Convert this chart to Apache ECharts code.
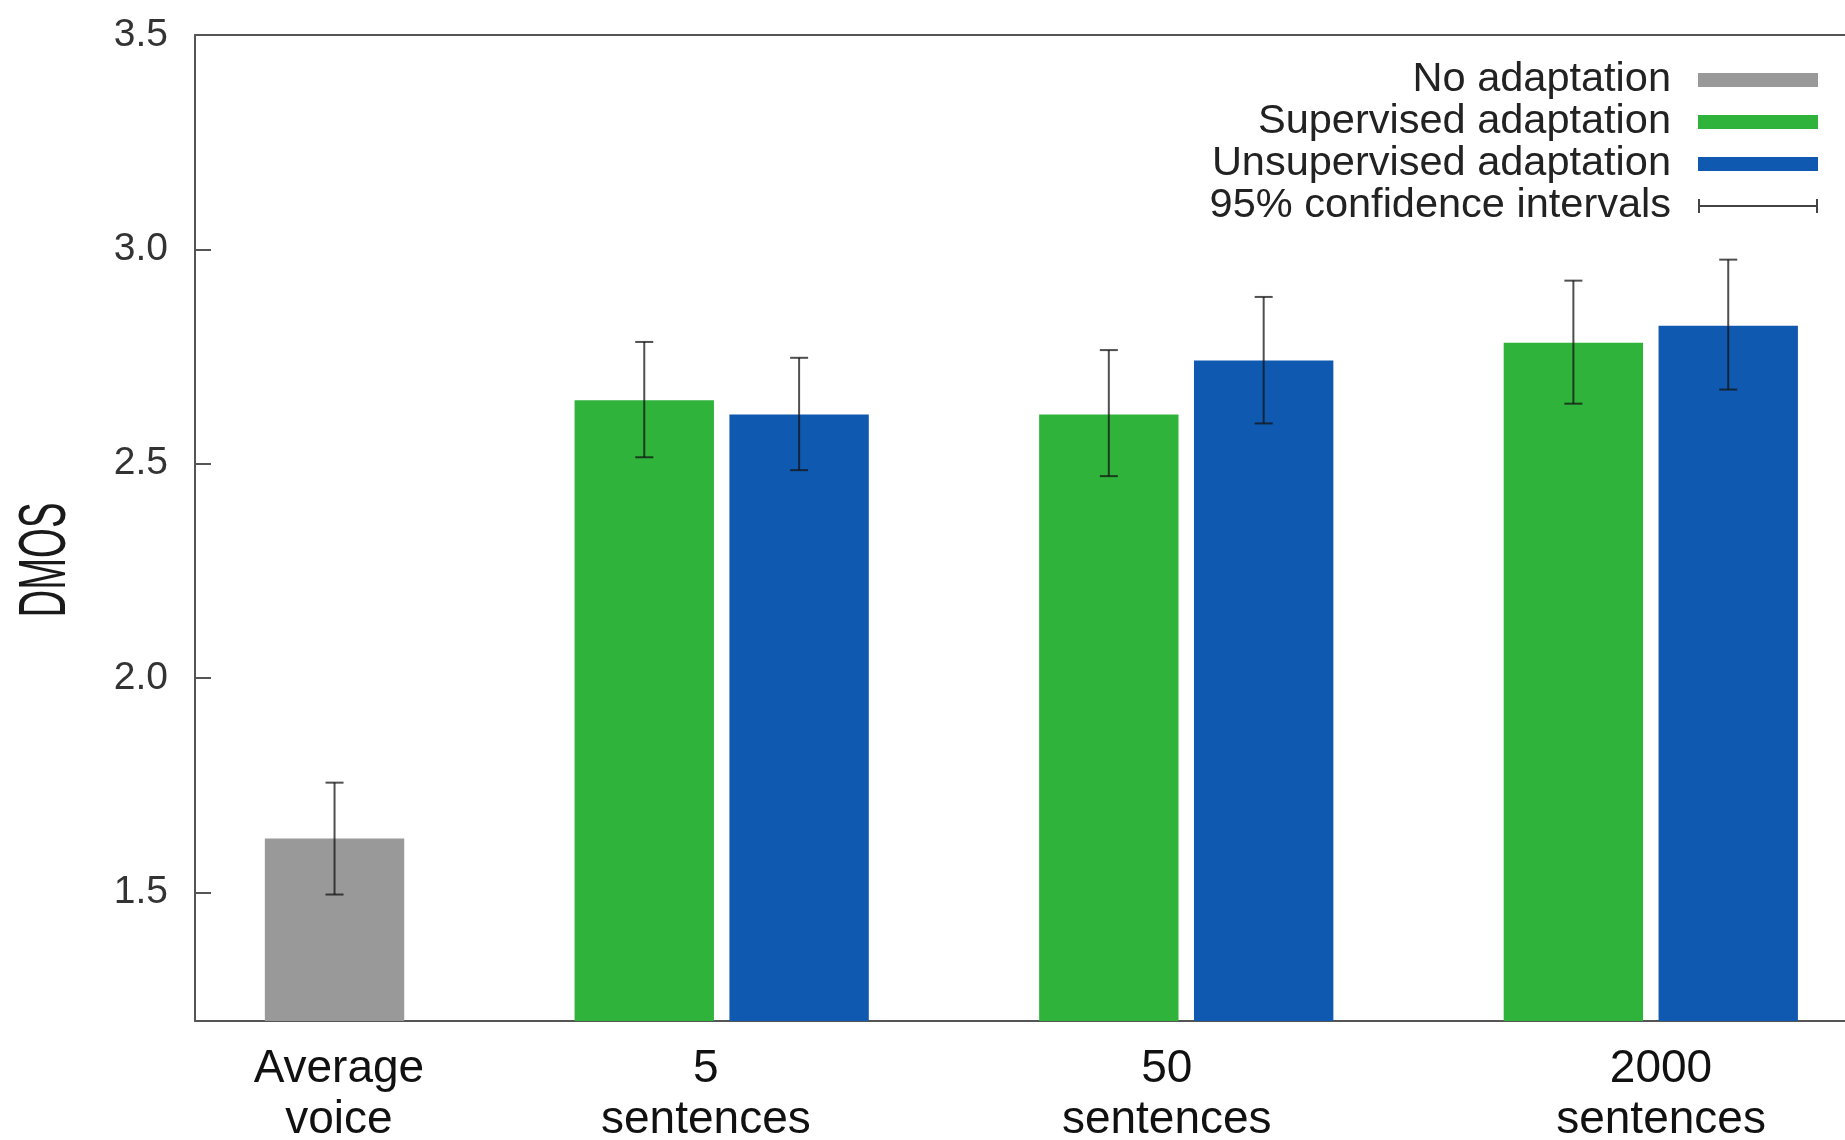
<!DOCTYPE html>
<html>
<head>
<meta charset="utf-8">
<title>DMOS by adaptation data size</title>
<script src="https://cdn.jsdelivr.net/npm/echarts@6/dist/echarts.min.js"></script>
<style>
  html, body { margin: 0; padding: 0; background: #ffffff; }
  #chart { width: 1845px; height: 1140px; }
</style>
</head>
<body>
<div id="chart"></div>
<script>
// ---- data ----
const categories = ['Average\nvoice', '5\nsentences', '50\nsentences', '2000\nsentences'];
const seriesNames = ['No adaptation', 'Supervised adaptation', 'Unsupervised adaptation'];
const ciName = '95% confidence intervals';

// mean DMOS per category (null = condition not tested)
const noAdaptation   = [1.626, null,  null,  null];
const supervised     = [null,  2.648, 2.615, 2.782];
const unsupervised   = [null,  2.615, 2.741, 2.822];

// 95% confidence interval bounds
const noAdaptationLow  = [1.495, null,  null,  null];
const noAdaptationHigh = [1.756, null,  null,  null];
const supervisedLow    = [null,  2.515, 2.471, 2.640];
const supervisedHigh   = [null,  2.784, 2.765, 2.927];
const unsupervisedLow  = [null,  2.485, 2.594, 2.673];
const unsupervisedHigh = [null,  2.747, 2.889, 2.976];

const yTicks = [1.5, 2.0, 2.5, 3.0, 3.5];

// ---- layout (cluster units on the x axis) ----
const SLOT = 1 / 3;            // two boxes per cluster plus one gap
const BOX_W = 0.9 * SLOT;      // box width
const slotOffset = [SLOT / 2, -SLOT / 2, SLOT / 2];  // grey box sits in the right slot
const labelPos = [0.176, 0.966, 1.958, 3.022];      // where category names are written
const X_MIN = -0.1337, X_MAX = 3.418;
const Y_MIN = 1.2, Y_MAX = 3.5;
const AXIS_COLOR = '#555555';

const colors = ['#999999', '#2fb33b', '#0f59b0'];
const means = [noAdaptation, supervised, unsupervised];
const lows = [noAdaptationLow, supervisedLow, unsupervisedLow];
const highs = [noAdaptationHigh, supervisedHigh, unsupervisedHigh];

function boxData(k) {
  const out = [];
  means[k].forEach((v, i) => { if (v != null) out.push([i + slotOffset[k], v]); });
  return out;
}
function ciData() {
  const out = [];
  for (let k = 0; k < 3; k++) {
    means[k].forEach((v, i) => {
      if (v != null) out.push([i + slotOffset[k], lows[k][i], highs[k][i]]);
    });
  }
  return out;
}

function renderBox(params, api) {
  const x = api.value(0), y = api.value(1);
  const top = api.coord([x, y]);
  const base = api.coord([x, Y_MIN]);
  const w = api.size([BOX_W, 0])[0];
  return {
    type: 'rect',
    shape: { x: top[0] - w / 2, y: top[1], width: w, height: base[1] - top[1] },
    style: { fill: api.visual('color') }
  };
}

function renderCI(params, api) {
  const x = api.value(0);
  const lo = api.coord([x, api.value(1)]);
  const hi = api.coord([x, api.value(2)]);
  const cap = 9;
  const st = { stroke: 'rgba(20,20,20,0.75)', lineWidth: 2 };
  return {
    type: 'group',
    children: [
      { type: 'line', shape: { x1: lo[0], y1: lo[1], x2: hi[0], y2: hi[1] }, style: st },
      { type: 'line', shape: { x1: hi[0] - cap, y1: hi[1], x2: hi[0] + cap, y2: hi[1] }, style: st },
      { type: 'line', shape: { x1: lo[0] - cap, y1: lo[1], x2: lo[0] + cap, y2: lo[1] }, style: st }
    ]
  };
}

const series = seriesNames.map((name, k) => ({
  name: name,
  type: 'custom',
  renderItem: renderBox,
  itemStyle: { color: colors[k] },
  encode: { x: 0, y: 1 },
  data: boxData(k),
  z: 2
}));
series.push({
  name: ciName,
  type: 'custom',
  renderItem: renderCI,
  itemStyle: { color: '#444444' },
  encode: { x: 0, y: [1, 2] },
  data: ciData(),
  z: 3
});

const chart = echarts.init(document.getElementById('chart'), null, { renderer: 'canvas' });
chart.setOption({
  animation: false,
  backgroundColor: '#ffffff',
  textStyle: { fontFamily: '"Liberation Sans", Arial, sans-serif' },
  grid: { left: 195, top: 35, right: 0, bottom: 119, containLabel: false, outerBoundsMode: 'none' },
  legend: {
    orient: 'vertical',
    right: 22,
    top: 54,
    align: 'right',
    itemWidth: 120,
    itemHeight: 14,
    itemGap: 0,
    selectedMode: false,
    textStyle: { fontSize: 41.5, lineHeight: 41.5, color: '#222222', padding: [0, 22, 0, 0] },
    data: [
      { name: seriesNames[0], icon: 'rect' },
      { name: seriesNames[1], icon: 'rect' },
      { name: seriesNames[2], icon: 'rect' },
      { name: ciName, icon: 'path://M0,0h2v14h-2z M0,6h120v2h-120z M118,0h2v14h-2z' }
    ]
  },
  // condensed vertical axis title
  graphic: [{
    type: 'text',
    x: 47,
    y: 560,
    rotation: Math.PI / 2,
    scaleX: 0.58,
    scaleY: 1,
    style: {
      text: 'DMOS',
      fontSize: 66,
      fontFamily: '"Liberation Sans", Arial, sans-serif',
      fill: '#1a1a1a',
      align: 'center',
      verticalAlign: 'middle'
    }
  }],
  xAxis: [{
    type: 'value',
    position: 'bottom',
    min: X_MIN,
    max: X_MAX,
    axisLine: { show: true, onZero: false, lineStyle: { color: AXIS_COLOR, width: 2 } },
    axisTick: { show: false },
    splitLine: { show: false },
    axisLabel: {
      customValues: labelPos,
      formatter: (v) => {
        const i = labelPos.findIndex(p => Math.abs(p - v) < 1e-6);
        return i >= 0 ? categories[i] : '';
      },
      fontSize: 46,
      lineHeight: 51,
      color: '#111111',
      margin: 23
    }
  }, {
    // top frame line
    type: 'value',
    position: 'top',
    min: X_MIN,
    max: X_MAX,
    axisLine: { show: true, onZero: false, lineStyle: { color: AXIS_COLOR, width: 2 } },
    axisTick: { show: false },
    axisLabel: { show: false },
    splitLine: { show: false }
  }],
  yAxis: {
    type: 'value',
    min: Y_MIN,
    max: Y_MAX,
    axisLine: { show: true, onZero: false, lineStyle: { color: AXIS_COLOR, width: 2 } },
    axisTick: { show: true, inside: true, length: 16, customValues: yTicks, lineStyle: { color: AXIS_COLOR, width: 2 } },
    splitLine: { show: false },
    axisLabel: {
      customValues: yTicks,
      formatter: (v) => v.toFixed(1),
      fontSize: 39,
      color: '#333333',
      margin: 27
    }
  },
  series: series
});
</script>
</body>
</html>
